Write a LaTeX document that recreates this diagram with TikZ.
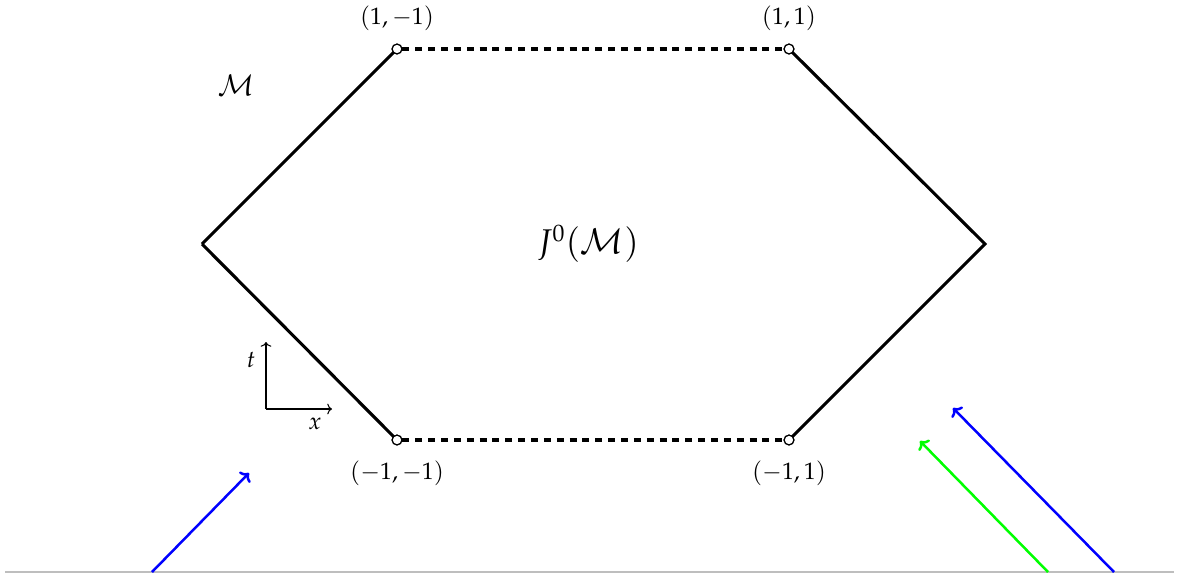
\documentclass[tikz,border=0pt]{standalone}
\usepackage{mathpazo}
\usetikzlibrary{arrows.meta}
\begin{document}
\begin{tikzpicture}[x=0.42pt,y=-0.42pt,
  edge/.style={line width=1.3pt},
  dashedge/.style={line width=1.3pt,dash pattern=on 2.9pt off 2.5pt},
  vtx/.style={circle,draw,fill=white,line width=0.5pt,inner sep=0pt,minimum size=4.1pt},
  coordlbl/.style={inner sep=0pt},
  ray/.style={line width=1.05pt,-{To[length=3pt,width=6.5pt]}},
  axis/.style={line width=0.45pt,-{To[length=2pt,width=4.5pt]}}]
\useasboundingbox (0,0) rectangle (1179,575);
% hexagon
\coordinate (L) at (202,244);
\coordinate (R) at (985,244);
\node[vtx] (TL) at (397,49) {};
\node[vtx] (TR) at (789,49) {};
\node[vtx] (BL) at (397,440) {};
\node[vtx] (BR) at (789,440) {};
\draw[edge] (L) -- (TL.center);
\draw[edge] (TR.center) -- (R) -- (BR.center);
\draw[edge] (BL.center) -- (L);
\draw[dashedge] (TL) -- (TR);
\draw[dashedge] (BL) -- (BR);
\node[vtx] at (397,49) {};
\node[vtx] at (789,49) {};
\node[vtx] at (397,440) {};
\node[vtx] at (789,440) {};
% labels
\node[coordlbl] (lTL) at (397,18) {$(1,-1)$};
\node[coordlbl] (lTR) at (789,18) {$(1,1)$};
\node[coordlbl] (lBL) at (397,473) {$(-1,-1)$};
\node[coordlbl] (lBR) at (789,473) {$(-1,1)$};
\node[coordlbl] (J) at (588,244) {\Large $J^0(\mathcal{M})$};
\node[coordlbl] (M) at (236,85) {\large $\mathcal{M}$};
% axes
\coordinate (O) at (266,409);
\coordinate (Ot) at (266,342);
\coordinate (Ox) at (332,409);
\draw[axis] (O) -- (Ot);
\draw[axis] (O) -- (Ox);
\node[coordlbl] (tl) at (251,360) {$t$};
\node[coordlbl] (xl) at (315,424) {$x$};
% ground line
\coordinate (G1) at (5,572);
\coordinate (G2) at (1174,572);
\draw[line width=1pt,color={rgb,255:red,190;green,190;blue,190}] (G1) -- (G2);
% rays
\coordinate (a1) at (152,572);
\coordinate (a2) at (249,473);
\draw[ray,blue] (a1) -- (a2);
\coordinate (b1) at (1114,572);
\coordinate (b2) at (953,408);
\draw[ray,blue] (b1) -- (b2);
\coordinate (c1) at (1048,572);
\coordinate (c2) at (920,441);
\draw[ray,green] (c1) -- (c2);
\end{tikzpicture}
\end{document}
